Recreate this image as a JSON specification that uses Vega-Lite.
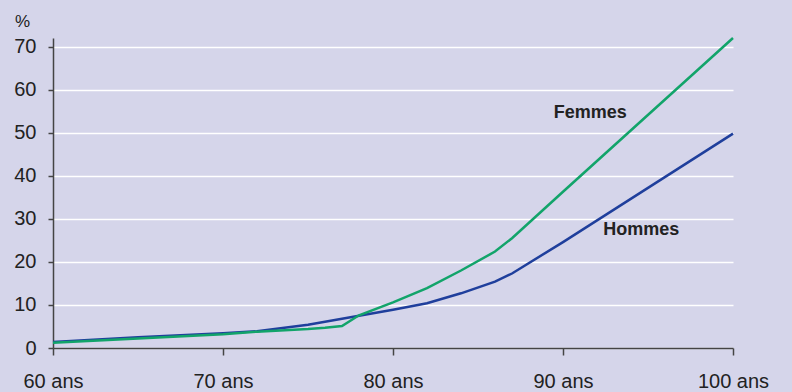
{
  "$schema": "https://vega.github.io/schema/vega-lite/v6.json",
  "autosize": "none",
  "width": 680,
  "height": 310,
  "padding": {"left": 53, "top": 38, "right": 59, "bottom": 44},
  "background": "#d5d5ea",
  "config": {
    "view": {"stroke": null},
    "font": "Liberation Sans"
  },
  "datasets": {
    "series": [
      {"age": 60, "pct": 1.4, "sexe": "Hommes"},
      {"age": 65, "pct": 2.5, "sexe": "Hommes"},
      {"age": 70, "pct": 3.4, "sexe": "Hommes"},
      {"age": 72, "pct": 3.9, "sexe": "Hommes"},
      {"age": 75, "pct": 5.4, "sexe": "Hommes"},
      {"age": 78, "pct": 7.5, "sexe": "Hommes"},
      {"age": 80, "pct": 8.9, "sexe": "Hommes"},
      {"age": 82, "pct": 10.4, "sexe": "Hommes"},
      {"age": 84, "pct": 12.7, "sexe": "Hommes"},
      {"age": 86, "pct": 15.4, "sexe": "Hommes"},
      {"age": 87, "pct": 17.3, "sexe": "Hommes"},
      {"age": 90, "pct": 24.6, "sexe": "Hommes"},
      {"age": 100, "pct": 49.8, "sexe": "Hommes"},
      {"age": 60, "pct": 1.2, "sexe": "Femmes"},
      {"age": 65, "pct": 2.2, "sexe": "Femmes"},
      {"age": 70, "pct": 3.2, "sexe": "Femmes"},
      {"age": 72, "pct": 3.8, "sexe": "Femmes"},
      {"age": 75, "pct": 4.4, "sexe": "Femmes"},
      {"age": 76, "pct": 4.7, "sexe": "Femmes"},
      {"age": 77, "pct": 5.1, "sexe": "Femmes"},
      {"age": 78, "pct": 7.6, "sexe": "Femmes"},
      {"age": 80, "pct": 10.6, "sexe": "Femmes"},
      {"age": 82, "pct": 13.9, "sexe": "Femmes"},
      {"age": 84, "pct": 18, "sexe": "Femmes"},
      {"age": 86, "pct": 22.4, "sexe": "Femmes"},
      {"age": 87, "pct": 25.5, "sexe": "Femmes"},
      {"age": 90, "pct": 36.3, "sexe": "Femmes"},
      {"age": 100, "pct": 72, "sexe": "Femmes"}
    ],
    "labels": [
      {"age": 91.6, "pct": 54.6, "sexe": "Femmes"},
      {"age": 94.6, "pct": 27.4, "sexe": "Hommes"}
    ]
  },
  "layer": [
    {
      "data": {"name": "series"},
      "mark": {"type": "line", "strokeWidth": 2.5, "interpolate": "linear"},
      "encoding": {
        "x": {
          "field": "age", "type": "quantitative",
          "scale": {"domain": [60, 100], "nice": false, "zero": false},
          "axis": {
            "values": [60, 70, 80, 90, 100],
            "labelExpr": "datum.value + ' ans'",
            "title": null,
            "grid": false,
            "domainColor": "#444",
            "domainWidth": 1.5,
            "tickColor": "#444",
            "tickWidth": 1.5,
            "tickSize": 7,
            "labelPadding": 16,
            "labelFontSize": 20,
            "labelColor": "#222",
            "labelFlush": false
          }
        },
        "y": {
          "field": "pct", "type": "quantitative",
          "scale": {"domain": [0, 72], "nice": false},
          "axis": {
            "values": [0, 10, 20, 30, 40, 50, 60, 70],
            "title": "%",
            "titleAngle": 0,
            "titleX": -31,
            "titleY": -17,
            "titleAlign": "center",
            "titleBaseline": "middle",
            "titleFontSize": 17,
            "titleFontWeight": "normal",
            "titleColor": "#222",
            "grid": true,
            "gridColor": "#ffffff",
            "gridWidth": 1.5,
            "domainColor": "#444",
            "domainWidth": 1.5,
            "tickColor": "#444",
            "tickWidth": 1.5,
            "tickSize": 5,
            "labelPadding": 12,
            "labelFontSize": 20,
            "labelColor": "#222"
          }
        },
        "color": {
          "field": "sexe", "type": "nominal",
          "scale": {"domain": ["Femmes", "Hommes"], "range": ["#12a46a", "#1f3f9c"]},
          "legend": null
        }
      }
    },
    {
      "data": {"name": "labels"},
      "mark": {"type": "text", "fontWeight": "bold", "fontSize": 18, "color": "#222", "align": "center", "baseline": "middle"},
      "encoding": {
        "x": {"field": "age", "type": "quantitative"},
        "y": {"field": "pct", "type": "quantitative"},
        "text": {"field": "sexe"}
      }
    }
  ]
}
